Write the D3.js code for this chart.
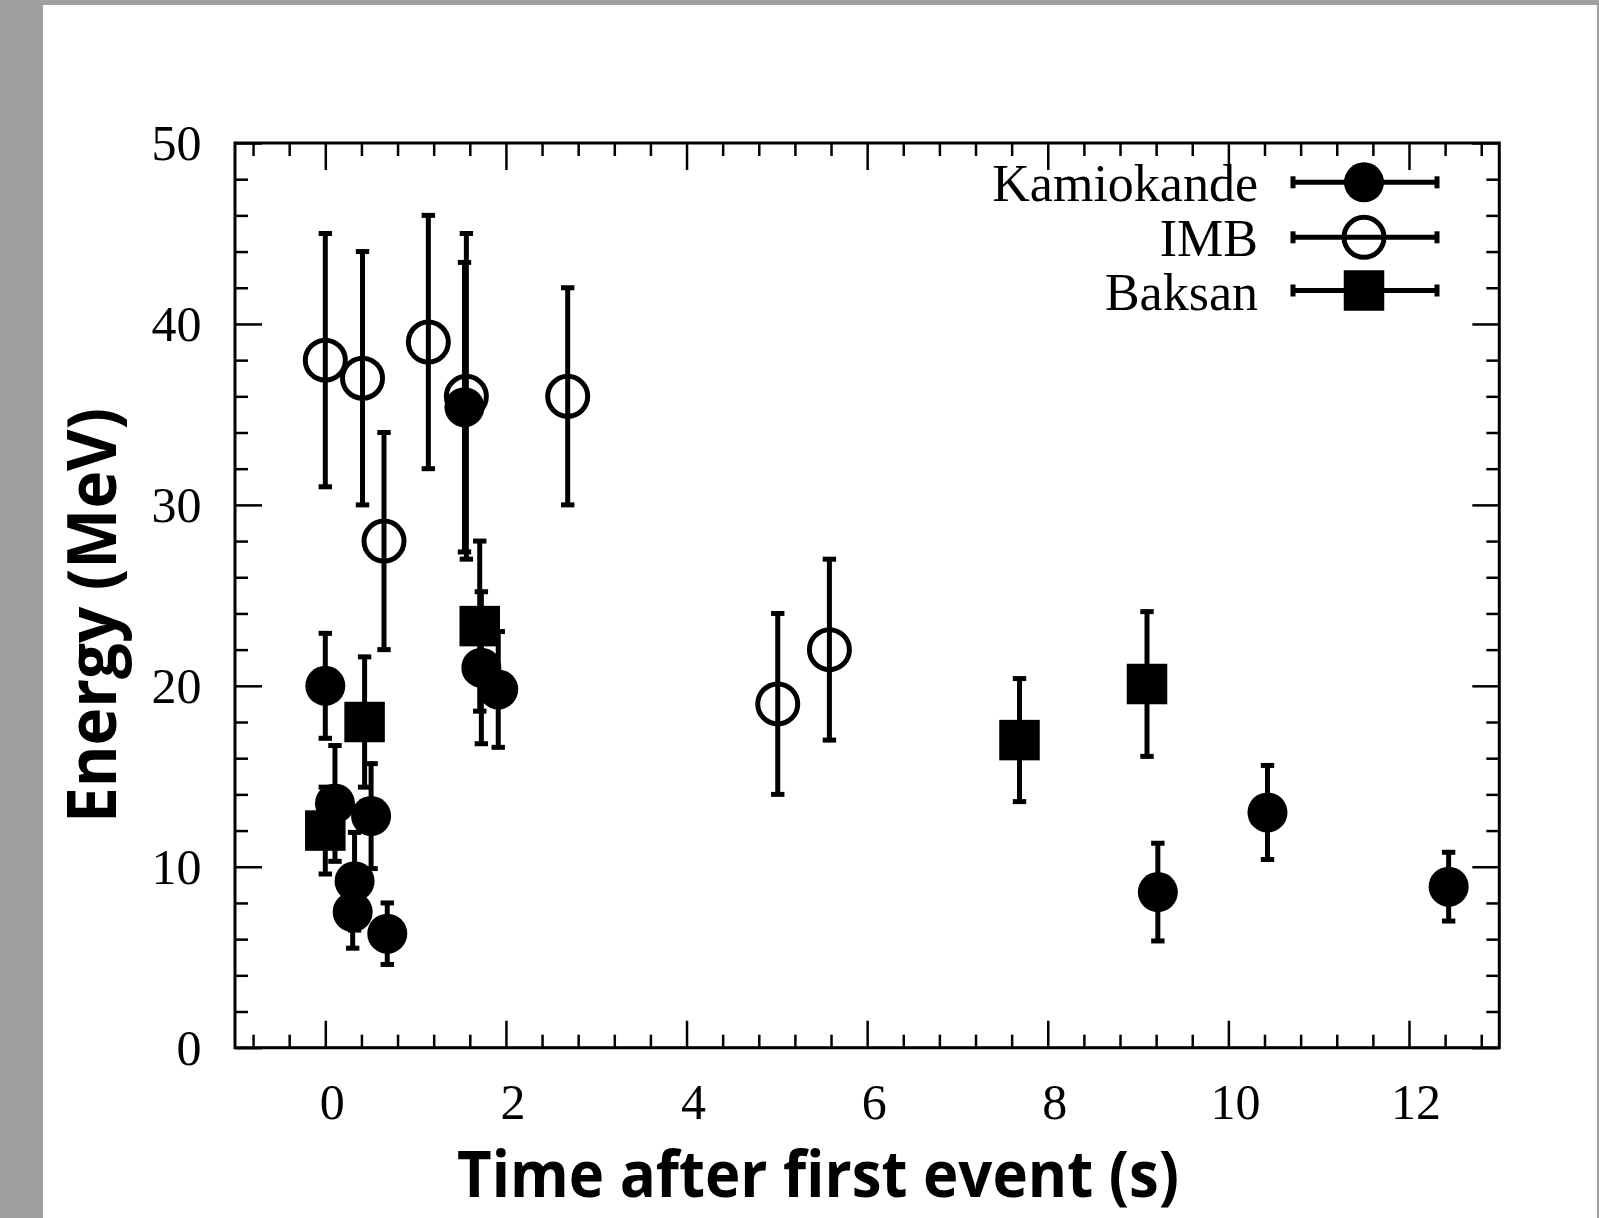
<!DOCTYPE html>
<html>
<head>
<meta charset="utf-8">
<script src="https://cdn.jsdelivr.net/npm/d3@7"></script>
<style>
  html, body { margin: 0; padding: 0; background: #a09e9e; }
  svg { display: block; }
</style>
</head>
<body>
<svg id="chart" width="1599" height="1218"></svg>
<script>
// ---- Data ----
const kamT   = [0, 0.107, 0.303, 0.324, 0.507, 0.686, 1.541, 1.728, 1.915, 9.219, 10.433, 12.439];
const kamE   = [20.0, 13.5, 7.5, 9.2, 12.8, 6.3, 35.4, 21.0, 19.8, 8.6, 13.0, 8.9];
const kamErr = [2.9, 3.2, 2.0, 2.7, 2.9, 1.7, 8.0, 4.2, 3.2, 2.7, 2.6, 1.9];

const imbT   = [0, 0.412, 0.650, 1.141, 1.562, 2.684, 5.010, 5.582];
const imbE   = [38, 37, 28, 39, 36, 36, 19, 22];
const imbErr = [7, 7, 6, 7, 9, 6, 5, 5];

const baksanT   = [0, 0.435, 1.710, 7.687, 9.099];
const baksanE   = [12.0, 18.0, 23.3, 17.0, 20.1];
const baksanErr = [2.4, 3.6, 4.7, 3.4, 4.0];

const seriesNames = ["Kamiokande", "IMB", "Baksan"];
const xMajorTicks = [0, 2, 4, 6, 8, 10, 12];
const yMajorTicks = [0, 10, 20, 30, 40, 50];
const xTitle = "Time after first event (s)";
const yTitle = "Energy (MeV)";

// ---- Layout ----
const svg = d3.select("#chart");
const W = 1599, H = 1218;
const L = 235, R = 1499.3, T = 143, B = 1047.7;

svg.append("rect").attr("x", 43).attr("y", 5).attr("width", 1554).attr("height", H - 5).attr("fill", "#ffffff");

const x = d3.scaleLinear().domain([-1, 13]).range([L, R]);
const y = d3.scaleLinear().domain([0, 50]).range([B, T]);

const xMinor = d3.range(-0.8, 13, 0.4).map(v => +v.toFixed(1)).filter(v => Math.abs(v / 2 - Math.round(v / 2)) > 1e-6);
const yMinor = d3.range(2, 50, 2).filter(v => v % 10 !== 0);

const MAJ = 27, MIN = 13;
function styleAxis(g) {
  g.select(".domain").remove();
  g.selectAll(".tick line").attr("stroke", "#000").attr("stroke-width", 2.5);
}

// bottom
svg.append("g").attr("transform", `translate(0,${B})`)
  .call(d3.axisBottom(x).tickValues(xMinor).tickSize(-MIN).tickFormat(""))
  .call(styleAxis);
const gxb = svg.append("g").attr("transform", `translate(0,${B})`)
  .call(d3.axisBottom(x).tickValues(xMajorTicks).tickSize(-MAJ).tickFormat(d3.format("d")))
  .call(styleAxis);
gxb.selectAll(".tick text")
  .attr("y", 71).attr("dy", 0).attr("dx", 6.5)
  .attr("font-family", "'Liberation Serif', 'Times New Roman', serif")
  .attr("font-size", 50).attr("fill", "#000");

// top
svg.append("g").attr("transform", `translate(0,${T})`)
  .call(d3.axisTop(x).tickValues(xMinor).tickSize(-MIN).tickFormat(""))
  .call(styleAxis);
svg.append("g").attr("transform", `translate(0,${T})`)
  .call(d3.axisTop(x).tickValues(xMajorTicks).tickSize(-MAJ).tickFormat(""))
  .call(styleAxis);

// left
svg.append("g").attr("transform", `translate(${L},0)`)
  .call(d3.axisLeft(y).tickValues(yMinor).tickSize(-MIN).tickFormat(""))
  .call(styleAxis);
const gyl = svg.append("g").attr("transform", `translate(${L},0)`)
  .call(d3.axisLeft(y).tickValues(yMajorTicks).tickSize(-MAJ).tickFormat(d3.format("d")))
  .call(styleAxis);
gyl.selectAll(".tick text")
  .attr("x", -33.5).attr("dy", "0.33em")
  .attr("font-family", "'Liberation Serif', 'Times New Roman', serif")
  .attr("font-size", 50).attr("fill", "#000");

// right
svg.append("g").attr("transform", `translate(${R},0)`)
  .call(d3.axisRight(y).tickValues(yMinor).tickSize(-MIN).tickFormat(""))
  .call(styleAxis);
svg.append("g").attr("transform", `translate(${R},0)`)
  .call(d3.axisRight(y).tickValues(yMajorTicks).tickSize(-MAJ).tickFormat(""))
  .call(styleAxis);

// frame
svg.append("rect").attr("x", L).attr("y", T).attr("width", R - L).attr("height", B - T)
  .attr("fill", "none").attr("stroke", "#000").attr("stroke-width", 3);

// ---- Data marks ----
const kam = kamT.map((t, i) => ({ t, e: kamE[i], err: kamErr[i] }));
const imb = imbT.map((t, i) => ({ t, e: imbE[i], err: imbErr[i] }));
const bak = baksanT.map((t, i) => ({ t, e: baksanE[i], err: baksanErr[i] }));

const CAP = 6.7, EW = 5;
function errorBars(data, cls) {
  const g = svg.append("g").attr("class", cls).attr("stroke", "#000").attr("stroke-width", EW);
  g.selectAll("line.v").data(data).join("line").attr("class", "v")
    .attr("x1", d => x(d.t)).attr("x2", d => x(d.t))
    .attr("y1", d => y(d.e - d.err)).attr("y2", d => y(d.e + d.err));
  g.selectAll("line.ct").data(data).join("line").attr("class", "ct")
    .attr("x1", d => x(d.t) - CAP).attr("x2", d => x(d.t) + CAP)
    .attr("y1", d => y(d.e + d.err)).attr("y2", d => y(d.e + d.err));
  g.selectAll("line.cb").data(data).join("line").attr("class", "cb")
    .attr("x1", d => x(d.t) - CAP).attr("x2", d => x(d.t) + CAP)
    .attr("y1", d => y(d.e - d.err)).attr("y2", d => y(d.e - d.err));
}
errorBars(kam, "err-kam");
errorBars(imb, "err-imb");
errorBars(bak, "err-bak");

const RAD = 20, SQ = 40.5;
svg.append("g").selectAll("circle").data(imb).join("circle")
  .attr("cx", d => x(d.t)).attr("cy", d => y(d.e)).attr("r", RAD)
  .attr("fill", "none").attr("stroke", "#000").attr("stroke-width", 5);
svg.append("g").selectAll("circle").data(kam).join("circle")
  .attr("cx", d => x(d.t)).attr("cy", d => y(d.e)).attr("r", RAD).attr("fill", "#000");
svg.append("g").selectAll("rect").data(bak).join("rect")
  .attr("x", d => x(d.t) - SQ / 2).attr("y", d => y(d.e) - SQ / 2)
  .attr("width", SQ).attr("height", SQ).attr("fill", "#000");

// ---- Legend ----
const legY = [182.3, 237.3, 290.5];
const lg = svg.append("g");
seriesNames.forEach((name, i) => {
  const yy = legY[i];
  lg.append("text").attr("x", 1258).attr("y", yy + 19).attr("text-anchor", "end")
    .attr("font-family", "'Liberation Serif', 'Times New Roman', serif").attr("font-size", 52)
    .attr("fill", "#000").text(name);
  lg.append("line").attr("x1", 1293).attr("x2", 1437).attr("y1", yy).attr("y2", yy)
    .attr("stroke", "#000").attr("stroke-width", 5);
  [1293, 1437].forEach(cx => lg.append("line").attr("x1", cx).attr("x2", cx)
    .attr("y1", yy - 6).attr("y2", yy + 6).attr("stroke", "#000").attr("stroke-width", 5));
  if (i === 0) lg.append("circle").attr("cx", 1364).attr("cy", yy).attr("r", RAD).attr("fill", "#000");
  if (i === 1) lg.append("circle").attr("cx", 1364).attr("cy", yy).attr("r", RAD)
    .attr("fill", "none").attr("stroke", "#000").attr("stroke-width", 5);
  if (i === 2) lg.append("rect").attr("x", 1364 - SQ / 2).attr("y", yy - SQ / 2)
    .attr("width", SQ).attr("height", SQ).attr("fill", "#000");
});

// ---- Axis titles ----
svg.append("text").attr("x", 818).attr("y", 1197).attr("text-anchor", "middle")
  .attr("font-family", "'Open Sans', Lato, sans-serif").attr("font-weight", 700)
  .attr("font-size", 65).attr("textLength", 722).attr("lengthAdjust", "spacingAndGlyphs")
  .attr("fill", "#000").text(xTitle);
svg.append("text").attr("transform", "translate(116,615.5) rotate(-90)").attr("text-anchor", "middle")
  .attr("font-family", "'Open Sans', Lato, sans-serif").attr("font-weight", 700)
  .attr("font-size", 68).attr("textLength", 415).attr("lengthAdjust", "spacingAndGlyphs")
  .attr("fill", "#000").text(yTitle);
</script>
</body>
</html>
